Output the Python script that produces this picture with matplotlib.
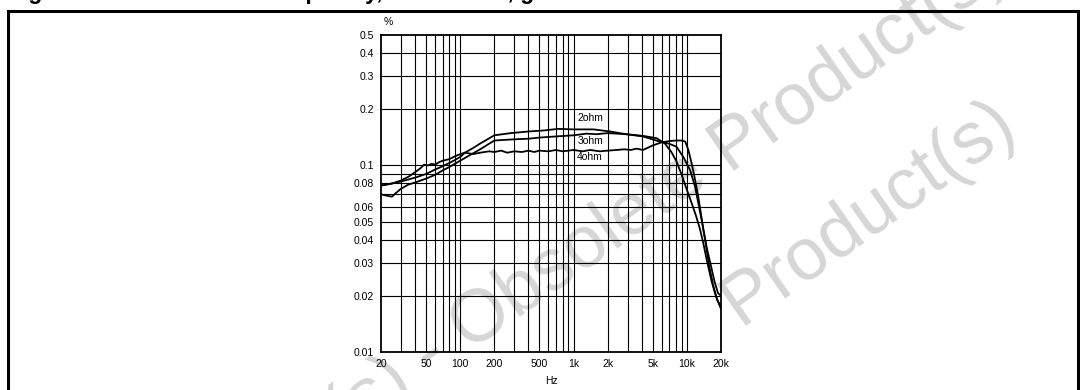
import numpy as np
import matplotlib
matplotlib.use("Agg")
import matplotlib.pyplot as plt
from matplotlib.patches import Rectangle
from matplotlib.ticker import FixedLocator, FixedFormatter, NullFormatter

# THD (%) vs frequency (Hz)
f_2ohm = [20, 25, 30, 40, 50, 60, 70, 80, 90, 100, 110, 130, 150, 200, 280, 400, 550,
          730, 1000, 1500, 2100, 2900, 4100, 5400, 6400, 7300, 8100, 9000, 10000, 11000,
          12000, 13000, 14000, 15000, 16500, 18000, 20000]
thd_2ohm = [0.078, 0.080, 0.082, 0.086, 0.090, 0.095, 0.099, 0.103, 0.107, 0.111, 0.117,
            0.124, 0.131, 0.145, 0.149, 0.152, 0.154, 0.157, 0.156, 0.156, 0.152, 0.147,
            0.144, 0.140, 0.131, 0.118, 0.105, 0.089, 0.074, 0.063, 0.054, 0.046, 0.038,
            0.031, 0.024, 0.020, 0.017]

f_3ohm = [20, 22, 25, 27, 30, 35, 40, 50, 60, 70, 80, 100, 120, 150, 200, 300, 400, 500,
          700, 1000, 1300, 1600, 2000, 2900, 4100, 5800, 6900, 8100, 9300, 10700, 11800,
          12600, 13500, 14500, 15700, 17000, 18500, 20000]
thd_3ohm = [0.070, 0.069, 0.068, 0.071, 0.075, 0.079, 0.081, 0.085, 0.089, 0.094, 0.098,
            0.106, 0.113, 0.122, 0.136, 0.138, 0.139, 0.141, 0.143, 0.145, 0.148, 0.147,
            0.149, 0.147, 0.143, 0.134, 0.131, 0.126, 0.111, 0.094, 0.077, 0.063, 0.051,
            0.040, 0.029, 0.023, 0.019, 0.0175]

f_4ohm = [20, 25, 30, 35, 40, 45, 48, 52, 56, 60, 65, 70, 80, 90, 100, 110, 130, 150, 180,
          200, 230, 260, 300, 350, 400, 450, 500, 600, 700, 800, 900, 1000, 1200, 1400,
          1700, 2000, 2400, 2800, 3200, 3600, 4100, 4600, 5000, 6000, 7000, 8000, 9000,
          9700, 10300, 11000, 11800, 12600, 14000, 15000, 16300, 17500, 18800, 20000]
thd_4ohm = [0.078, 0.080, 0.083, 0.087, 0.092, 0.097, 0.101, 0.100, 0.102, 0.101, 0.104,
            0.106, 0.108, 0.112, 0.115, 0.117, 0.115, 0.117, 0.119, 0.118, 0.120, 0.117,
            0.119, 0.118, 0.120, 0.118, 0.120, 0.119, 0.121, 0.119, 0.120, 0.121, 0.119,
            0.121, 0.119, 0.120, 0.121, 0.122, 0.121, 0.123, 0.121, 0.125, 0.128, 0.133,
            0.135, 0.136, 0.136, 0.134, 0.121, 0.103, 0.084, 0.068, 0.045, 0.036, 0.029,
            0.024, 0.0207, 0.020]

curve_names = ["2ohm", "3ohm", "4ohm"]
label_pos = [(1090, 0.18), (1090, 0.135), (1075, 0.111)]

x_grid = [30, 40, 50, 60, 70, 80, 90, 100, 200, 300, 400, 500, 600, 700, 800, 900, 1000,
          2000, 3000, 4000, 5000, 6000, 7000, 8000, 9000, 10000]
x_ticks = [20, 50, 100, 200, 500, 1000, 2000, 5000, 10000, 20000]
x_labels = ["20", "50", "100", "200", "500", "1k", "2k", "5k", "10k", "20k"]
y_grid = [0.02, 0.03, 0.04, 0.05, 0.06, 0.07, 0.08, 0.09, 0.1, 0.2, 0.3, 0.4]
y_ticks = [0.01, 0.02, 0.03, 0.04, 0.05, 0.06, 0.08, 0.1, 0.2, 0.3, 0.4, 0.5]
y_labels = ["0.01", "0.02", "0.03", "0.04", "0.05", "0.06", "0.08", "0.1", "0.2", "0.3",
            "0.4", "0.5"]

title = "Figure 9.  Distortion vs. frequency, Vs = 14.4 V, gain = 26 dB"
wm_text = [("Product(s) - Obsolete", "Product(s)"), ("", "Product(s)")]
wm_anchor = [(728, 171), (740, 326)]

W, H = 1080, 390
plt.rcParams["font.family"] = ["Liberation Sans", "DejaVu Sans"]
fig = plt.figure(figsize=(W / 100, H / 100), dpi=100)

# watermark, behind the chart
ang = 35
wm_size = 53
em = wm_size * 100 / 72
for (before, after), (px, py) in zip(wm_text, wm_anchor):
    kw = dict(fontsize=wm_size, color="#d6d6d6", rotation=ang, rotation_mode="anchor",
              va="baseline", zorder=-5)
    fig.text(px / W, 1 - py / H, after, ha="left", **kw)
    if before:
        gap = 0.278 * em
        bx = px - gap * np.cos(np.deg2rad(ang))
        by = py + gap * np.sin(np.deg2rad(ang))
        fig.text(bx / W, 1 - by / H, before, ha="right", **kw)

ax = fig.add_axes([381 / W, 1 - 352 / H, 340 / W, 317 / H])
ax.set_facecolor("none")
ax.set_xscale("log")
ax.set_yscale("log")
ax.set_xlim(20, 20000)
ax.set_ylim(0.01, 0.5)

for xv in x_grid:
    ax.axvline(xv, color="black", lw=0.8, zorder=1)
for yv in y_grid:
    ax.axhline(yv, color="black", lw=0.8, zorder=1)

for f, v in [(f_2ohm, thd_2ohm), (f_3ohm, thd_3ohm), (f_4ohm, thd_4ohm)]:
    ax.plot(f, v, color="black", lw=1.3, zorder=3)

for name, (lx, ly) in zip(curve_names, label_pos):
    ax.text(lx, ly, name, fontsize=7.5, ha="left", va="center", zorder=4)

ax.xaxis.set_major_locator(FixedLocator(x_ticks))
ax.xaxis.set_major_formatter(FixedFormatter(x_labels))
ax.xaxis.set_minor_formatter(NullFormatter())
ax.yaxis.set_major_locator(FixedLocator(y_ticks))
ax.yaxis.set_major_formatter(FixedFormatter(y_labels))
ax.yaxis.set_minor_formatter(NullFormatter())
ax.tick_params(which="both", length=0, labelsize=7.5, pad=5)
for s in ax.spines.values():
    s.set_linewidth(1.3)

ax.set_xlabel("Hz", fontsize=7.5, labelpad=5)
fig.text(388 / W, 1 - 22 / H, "%", fontsize=7.5, ha="center", va="center")

# outer frame and cut-off heading
fig.patches.append(Rectangle((8 / W, -0.05), 1070 / W, 1.05 - 11.5 / H, transform=fig.transFigure,
                             fill=False, lw=2.2, edgecolor="black"))
fig.text(8 / W, 1 + 0.5 / H, title, fontsize=16.5, fontweight="bold", ha="left",
         va="baseline")

fig.savefig("out.png", dpi=100)
